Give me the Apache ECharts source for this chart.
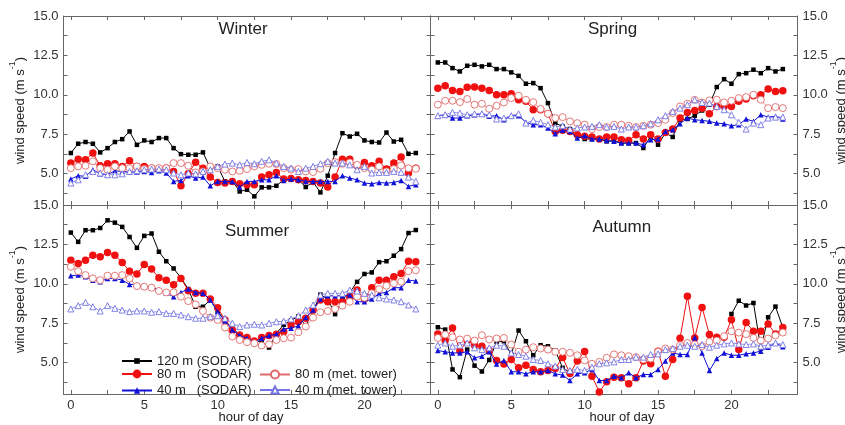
<!DOCTYPE html>
<html>
<head>
<meta charset="utf-8">
<script src="https://cdn.jsdelivr.net/npm/echarts@6/dist/echarts.min.js"></script>
<style>
  html, body { margin: 0; padding: 0; background: #fff; }
  #chart { width: 845px; height: 425px; }
</style>
</head>
<body>
<div id="chart"></div>
<script>
// Half-hourly sample times (hour of day)
const hours = Array.from({ length: 48 }, (_, i) => i / 2);

const xTickHours = [0, 2.5, 5, 7.5, 10, 12.5, 15, 17.5, 20, 22.5];
const xLabelHours = [0, 5, 10, 15, 20];
const yTickValues = [3.75, 5, 6.25, 7.5, 8.75, 10, 11.25, 12.5, 13.75, 15];
const yLabelValues = [5, 7.5, 10, 12.5, 15];

const seasonTitles = ['Winter', 'Spring', 'Summer', 'Autumn'];
const seriesNames = ['120 m (SODAR)', '80 m   (SODAR)', '40 m   (SODAR)', '80 m (met. tower)', '40 m (met. tower)'];

// Winter (m/s)
const winter120 = [6.3,6.89,7.0,6.89,6.34,6.61,7.0,7.18,7.67,6.82,7.1,7.0,7.25,7.25,6.61,6.23,6.19,6.19,6.34,5.34,5.45,4.5,4.54,3.86,3.97,3.55,4.12,4.12,4.22,4.6,4.6,4.6,4.14,4.46,3.8,4.86,6.3,7.56,7.35,7.52,7.1,7.0,6.97,7.6,7.03,7.14,6.25,6.3];
const winter80 = [5.66,5.91,5.87,6.3,5.49,5.62,5.62,5.45,5.81,5.45,5.45,5.34,5.28,5.34,5.13,4.22,4.98,5.72,5.34,4.77,4.43,4.39,4.5,4.35,4.29,4.29,4.77,4.92,5.07,4.65,4.69,4.6,4.56,4.5,4.39,4.14,4.77,5.91,5.91,5.49,5.7,5.49,5.77,5.28,5.66,6.04,5.03,5.34];
const winter40 = [4.65,4.86,4.82,5.24,4.98,4.92,5.17,5.13,5.09,5.09,5.13,5.07,5.17,5.03,4.5,4.56,4.86,4.71,4.77,4.22,4.5,4.5,4.5,4.14,4.5,4.5,4.6,4.6,4.86,4.56,4.65,4.6,4.5,4.5,4.5,4.5,4.5,4.86,4.71,4.6,4.39,4.35,4.43,4.39,4.43,4.56,4.18,4.29];
const winterTower80 = [5.34,5.45,5.49,5.77,5.34,5.24,5.45,5.34,5.34,5.45,5.28,5.34,5.34,5.34,5.66,5.66,5.49,5.07,5.13,5.45,5.34,5.24,5.13,5.17,5.28,5.45,5.55,5.62,5.6,5.34,5.24,5.28,5.13,5.09,5.3,5.66,5.72,5.62,5.7,5.55,5.34,5.24,5.45,5.13,5.28,5.51,5.34,5.3];
const winterTower40 = [4.39,4.6,4.92,5.13,5.03,4.92,4.92,4.98,5.13,5.17,5.24,5.28,5.28,5.24,5.03,4.92,5.03,4.98,5.13,5.24,5.45,5.6,5.66,5.55,5.7,5.62,5.77,5.87,5.66,5.45,5.34,5.13,5.34,5.45,5.62,5.77,5.66,5.66,5.55,5.24,5.45,5.03,5.07,5.07,5.13,5.07,4.77,4.5];

// Spring
const spring120 = [12.05,12.05,11.69,11.48,11.84,11.9,11.8,11.9,11.63,11.63,11.42,11.2,10.7,10.74,10.42,9.47,8.2,7.99,7.82,7.36,7.19,7.19,7.19,7.04,7.08,6.93,6.93,6.93,6.62,7.36,6.83,7.57,7.32,8.41,8.46,8.67,9.0,9.37,10.49,10.99,10.7,11.31,11.37,11.59,11.37,11.69,11.48,11.63];
const spring80 = [10.42,10.57,10.27,10.21,10.47,10.49,10.42,10.27,10.0,10.0,10.06,9.68,9.58,9.05,9.05,8.79,7.67,7.74,7.67,7.46,7.36,7.32,7.19,7.32,7.32,7.15,7.1,7.46,7.19,7.46,7.19,7.61,7.82,8.52,8.88,9.0,9.15,8.79,9.26,9.26,9.26,9.58,9.73,9.94,10.0,10.36,10.21,10.25];
const spring40 = [8.67,8.73,8.52,8.52,8.67,8.73,8.79,8.63,8.67,8.41,8.67,8.67,8.25,8.1,8.1,7.89,7.53,7.74,7.67,7.25,7.4,7.19,7.19,7.1,7.04,6.93,6.93,6.93,6.83,7.15,7.19,7.67,7.78,8.16,8.52,8.41,8.37,8.31,8.2,8.16,8.03,8.1,8.46,8.31,8.73,8.58,8.63,8.46];
const springTower80 = [9.37,9.62,9.62,9.53,9.73,9.37,9.43,9.11,9.3,9.51,9.79,9.94,9.68,9.53,9.1,8.79,8.52,8.58,8.31,8.2,8.1,7.82,7.95,7.95,8.1,8.1,8.03,7.95,8.03,8.1,8.2,8.41,8.84,9.26,9.43,9.68,9.51,9.64,9.68,9.51,9.62,9.79,9.85,10.0,9.68,9.15,9.22,9.15];
const springTower40 = [8.67,8.73,8.88,8.84,8.73,8.79,8.79,8.73,8.46,8.52,8.67,8.79,8.2,8.37,8.25,8.1,7.95,8.03,7.82,7.89,7.95,7.99,8.1,7.95,7.99,7.82,7.95,7.95,8.03,8.16,8.41,8.67,8.94,9.15,9.37,9.68,9.51,9.47,9.26,9.05,8.73,8.25,7.82,8.2,8.1,8.52,8.58,8.58];

// Summer
const summer120 = [13.25,12.66,13.4,13.4,13.54,14.03,13.88,13.61,12.97,12.28,13.04,13.19,12.03,11.43,10.97,10.38,9.66,8.54,8.54,8.97,8.23,7.7,7.13,6.79,6.58,6.37,6.33,5.95,6.85,7.4,7.68,7.92,7.35,8.26,9.31,9.03,8.07,8.97,9.45,10.12,10.62,10.72,11.37,11.43,11.78,12.2,13.22,13.41];
const summer80 = [11.5,11.29,11.5,11.81,11.71,11.98,11.81,11.35,10.8,10.62,11.22,10.93,10.38,10.23,9.93,10.34,9.55,9.39,9.39,9.03,8.48,7.7,7.07,6.75,6.58,6.37,6.58,6.71,6.79,6.96,7.38,7.59,7.81,8.33,8.97,8.86,8.86,8.86,9.18,9.6,9.03,9.75,10.23,10.23,10.44,10.65,11.43,11.39];
const summer40 = [10.51,10.55,10.44,10.23,10.13,10.34,10.34,10.23,9.96,9.96,9.81,9.81,9.6,9.39,9.18,9.45,9.66,9.45,9.39,8.97,8.23,7.64,7.07,6.71,6.54,6.29,6.54,6.71,6.79,7.13,7.17,7.34,7.85,8.33,9.03,9.24,9.24,9.24,9.28,8.86,8.86,9.03,9.39,9.45,9.75,9.75,10.23,10.17];
const summerTower80 = [11.08,10.8,10.55,10.34,10.23,10.51,10.51,10.55,10.34,9.85,9.81,9.75,9.54,9.45,9.45,9.18,8.9,8.69,8.27,7.85,7.7,7.22,6.65,6.43,6.29,6.22,6.08,6.16,6.43,6.54,6.58,6.92,7.28,7.85,8.19,8.27,8.4,8.61,8.86,9.18,9.11,9.39,9.66,9.87,10.02,10.13,10.8,10.86];
const summerTower40 = [8.4,8.61,8.82,8.54,8.27,8.61,8.44,8.33,8.23,8.27,8.27,8.19,8.23,8.12,8.12,8.02,7.91,7.81,7.81,7.91,7.97,7.81,7.49,7.28,7.38,7.43,7.38,7.49,7.59,7.62,7.76,7.97,8.33,8.65,9.28,9.39,9.39,9.39,9.6,9.54,9.39,9.28,9.11,9.03,8.97,8.86,8.65,8.4];

// Autumn (120 m record has a gap during the day)
const autumn120 = [7.24,7.09,4.56,4.07,5.82,4.8,4.43,5.16,6.3,6.35,5.51,7.03,6.35,5.46,6.1,6.03,5.76,4.66,4.35,null,null,null,null,null,null,null,null,null,null,null,null,null,null,null,null,null,null,null,null,null,8.08,8.92,8.62,8.78,5.9,7.87,8.55,7.22];
const autumn80 = [6.81,6.42,7.19,5.75,6.39,6.1,6.03,5.76,5.13,4.9,5.19,4.66,4.83,4.56,4.41,4.49,4.62,5.32,4.3,5.1,5.7,4.13,3.13,3.78,4.07,4.03,3.65,4.03,5.1,4.92,5.72,4.13,5.19,6.54,9.2,6.56,8.5,6.77,6.6,6.6,7.72,5.82,7.54,6.98,6.98,7.45,6.81,7.23];
const autumn40 = [5.76,5.68,5.61,5.61,5.68,5.3,5.4,5.68,4.9,5.13,4.41,4.41,4.28,4.41,4.41,4.49,4.28,4.2,3.86,4.28,4.35,4.56,3.86,3.86,4.13,4.03,4.35,4.03,4.24,4.24,4.56,5.1,5.6,5.51,5.51,6.58,5.61,4.49,5.25,5.61,5.46,5.46,5.55,5.61,5.72,5.97,6.24,6.0];
const autumnTower80 = [6.56,6.77,6.6,6.46,6.52,6.39,6.73,6.46,6.52,6.56,6.14,5.68,5.82,5.97,5.89,5.82,5.68,5.68,5.61,5.46,5.13,4.92,5.04,5.3,5.51,5.46,5.4,5.34,5.19,5.25,5.68,5.89,5.82,6.1,6.24,6.14,6.03,6.31,6.39,6.67,6.98,6.9,6.8,6.56,6.39,6.52,6.72,6.9];
const autumnTower40 = [6.1,6.24,6.03,6.1,6.24,5.93,5.82,5.93,6.1,6.03,5.61,5.51,5.4,5.19,5.13,4.92,4.77,4.56,4.49,4.56,4.49,4.7,4.92,4.98,5.04,5.19,5.19,5.34,5.34,5.51,5.55,5.82,5.89,6.03,6.1,6.03,6.14,5.97,6.1,6.18,6.24,6.18,6.14,6.18,6.03,6.1,6.24,6.14];

const seasonData = [
  [winter120, winter80, winter40, winterTower80, winterTower40],
  [spring120, spring80, spring40, springTower80, springTower40],
  [summer120, summer80, summer40, summerTower80, summerTower40],
  [autumn120, autumn80, autumn40, autumnTower80, autumnTower40]
];

const FONT = '"Liberation Sans", Arial, sans-serif';
const AXIS_COLOR = '#666';
const TEXT_COLOR = '#222';

// Panel frames: two columns, two rows sharing their borders
const panels = [
  { left: 63.5,  top: 16,  side: 'left',  bottomLabels: false },
  { left: 430.5, top: 16,  side: 'right', bottomLabels: false },
  { left: 63.5,  top: 205, side: 'left',  bottomLabels: true },
  { left: 430.5, top: 205, side: 'right', bottomLabels: true }
];
const PANEL_W = 367, PANEL_H = 189;

// Filled markers for SODAR, hollow (white-filled) markers for the met. tower
const seriesStyles = [
  { color: '#000000', symbol: 'rect',     symbolSize: 4.5, width: 1,   fill: null, border: 0 },
  { color: '#f01010', symbol: 'circle',   symbolSize: 7.5, width: 1,   fill: null, border: 0 },
  { color: '#1010d8', symbol: 'triangle', symbolSize: 5.5, width: 1,   fill: null, border: 0 },
  { color: '#e06a6a', symbol: 'circle',   symbolSize: 7,   width: 0.8, fill: '#ffffff', border: 0.9 },
  { color: '#7474e4', symbol: 'triangle', symbolSize: 6,   width: 0.8, fill: '#ffffff', border: 0.9 }
];
// back-to-front drawing order
const drawOrder = [4, 3, 2, 1, 0];

const yName = '{t|wind speed (m s}{s|-1}{t|)}';
const yNameStyle = {
  color: TEXT_COLOR, fontFamily: FONT,
  rich: {
    t: { fontSize: 13, lineHeight: 18, verticalAlign: 'bottom', color: TEXT_COLOR, fontFamily: FONT },
    s: { fontSize: 9, verticalAlign: 'top', color: TEXT_COLOR, fontFamily: FONT }
  }
};

const grids = [], xAxes = [], yAxes = [], series = [];

panels.forEach((p, k) => {
  grids.push({
    left: p.left, top: p.top, width: PANEL_W, height: PANEL_H,
    containLabel: false, outerBoundsMode: 'none'
  });

  ['bottom', 'top'].forEach(pos => {
    xAxes.push({
      gridIndex: k, type: 'value', position: pos, min: -0.5, max: 24.5,
      axisLine: { show: true, onZero: false, lineStyle: { color: AXIS_COLOR, width: 1 } },
      axisTick: { show: true, inside: true, length: 4, customValues: xTickHours, lineStyle: { color: AXIS_COLOR } },
      axisLabel: {
        show: pos === 'bottom' && p.bottomLabels, customValues: xLabelHours, margin: 5,
        fontSize: 13, color: '#333', fontFamily: FONT
      },
      splitLine: { show: false }
    });
  });

  ['left', 'right'].forEach(pos => {
    const labelled = pos === p.side;
    yAxes.push({
      gridIndex: k, type: 'value', position: pos, min: 3, max: 15,
      axisLine: { show: true, onZero: false, lineStyle: { color: AXIS_COLOR, width: 1 } },
      axisTick: { show: true, inside: true, length: 4, customValues: yTickValues, lineStyle: { color: AXIS_COLOR } },
      axisLabel: {
        show: labelled, customValues: yLabelValues, margin: 5,
        fontSize: 13, color: '#333', fontFamily: FONT,
        formatter: v => Number(v).toFixed(1)
      },
      splitLine: { show: false },
      name: labelled ? yName : '',
      nameLocation: 'middle',
      nameRotate: 90,
      nameGap: pos === 'left' ? 37 : 32,
      nameMoveOverlap: false,
      nameTextStyle: yNameStyle
    });
  });

  const yIndex = k * 2 + (p.side === 'left' ? 0 : 1);
  drawOrder.forEach(s => {
    const st = seriesStyles[s];
    const values = seasonData[k][s];
    series.push({
      name: seriesNames[s],
      type: 'line',
      xAxisIndex: k * 2,
      yAxisIndex: yIndex,
      data: hours.map((h, i) => [h, values[i] == null ? '-' : values[i]]),
      symbol: st.symbol,
      symbolSize: st.symbolSize,
      showSymbol: true,
      connectNulls: false,
      lineStyle: { color: st.color, width: st.width },
      itemStyle: st.fill
        ? { color: st.fill, borderColor: st.color, borderWidth: st.border }
        : { color: st.color, borderWidth: 0 },
      emphasis: { disabled: true },
      z: 2 + (4 - drawOrder.indexOf(s))
    });
  });
});

const titlePos = [
  { left: 218.5, top: 21 },
  { left: 588, top: 21 },
  { left: 225, top: 222.5 },
  { left: 592.5, top: 219 }
];

const legendText = { fontSize: 13, color: TEXT_COLOR, fontFamily: FONT };

// One legend per row so each entry keeps its own marker size
const legendRows = [
  { s: 0, left: 121, cy: 358,   h: 7 },
  { s: 1, left: 121, cy: 373,   h: 11 },
  { s: 2, left: 121, cy: 388,   h: 8 },
  { s: 3, left: 259, cy: 373,   h: 10 },
  { s: 4, left: 259, cy: 388,   h: 9 }
];

const option = {
  animation: false,
  backgroundColor: '#ffffff',
  textStyle: { fontFamily: FONT },
  title: seasonTitles.map((t, i) => ({
    text: t, left: titlePos[i].left, top: titlePos[i].top, padding: 0,
    textStyle: { fontSize: 17, fontWeight: 'normal', color: TEXT_COLOR, fontFamily: FONT }
  })),
  legend: legendRows.map(r => ({
    data: [seriesNames[r.s]], orient: 'vertical', left: r.left, top: r.cy - r.h / 2,
    itemWidth: 30, itemHeight: r.h, padding: 0,
    textStyle: legendText, selectedMode: false
  })),
  grid: grids,
  xAxis: xAxes,
  yAxis: yAxes,
  series: series,
  graphic: [
    { type: 'text', x: 251, y: 417, style: { text: 'hour of day', align: 'center', verticalAlign: 'middle', textAlign: 'center', textVerticalAlign: 'middle', fontSize: 13, fontFamily: FONT, fill: TEXT_COLOR } },
    { type: 'text', x: 622, y: 417, style: { text: 'hour of day', align: 'center', verticalAlign: 'middle', textAlign: 'center', textVerticalAlign: 'middle', fontSize: 13, fontFamily: FONT, fill: TEXT_COLOR } }
  ]
};

const chart = echarts.init(document.getElementById('chart'), null, { renderer: 'canvas' });
chart.setOption(option);
</script>
</body>
</html>
